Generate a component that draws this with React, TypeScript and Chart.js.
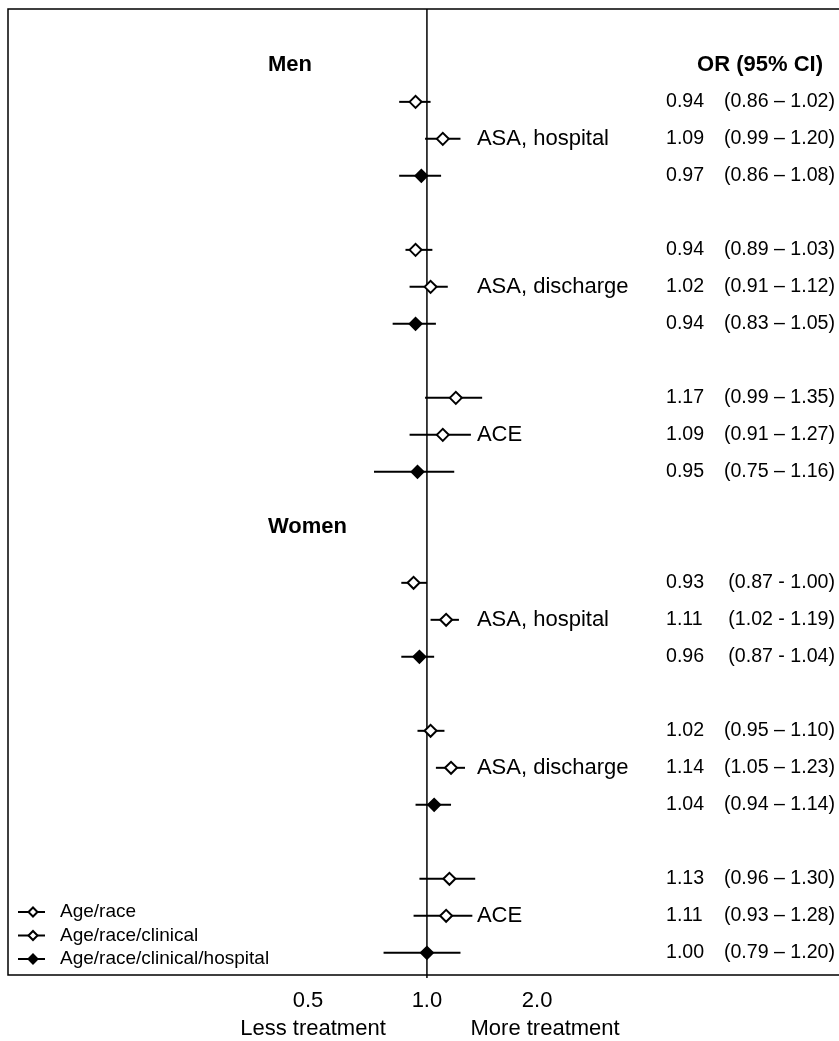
import { useEffect, useRef } from "react";
import { Chart, registerables } from "chart.js";

Chart.register(...registerables);

const FONT = '"Liberation Sans", Arial, Helvetica, sans-serif';

// ---- data ----
const GROUPS = ["Men", "Women"];
const OUTCOMES = ["ASA, hospital", "ASA, discharge", "ACE"];
const MODELS = ["Age/race", "Age/race/clinical", "Age/race/clinical/hospital"];
const COLUMN_TITLE = "OR (95% CI)";

// blocks: Men ASA hospital, Men ASA discharge, Men ACE, Women ASA hospital, Women ASA discharge, Women ACE
const AGE_RACE_OR = [0.94, 0.94, 1.17, 0.93, 1.02, 1.13];
const AGE_RACE_LO = [0.86, 0.89, 0.99, 0.87, 0.95, 0.96];
const AGE_RACE_HI = [1.02, 1.03, 1.35, 1.0, 1.1, 1.3];

const CLINICAL_OR = [1.09, 1.02, 1.09, 1.11, 1.14, 1.11];
const CLINICAL_LO = [0.99, 0.91, 0.91, 1.02, 1.05, 0.93];
const CLINICAL_HI = [1.2, 1.12, 1.27, 1.19, 1.23, 1.28];

const HOSPITAL_OR = [0.97, 0.94, 0.95, 0.96, 1.04, 1.0];
const HOSPITAL_LO = [0.86, 0.83, 0.75, 0.87, 0.94, 0.79];
const HOSPITAL_HI = [1.08, 1.05, 1.16, 1.04, 1.14, 1.2];

const CI_SEPARATOR = ["\u2013", "\u2013", "\u2013", "-", "\u2013", "\u2013"];

const TICK_LABELS = ["0.5", "1.0", "2.0"];
const TICK_AT = [0.524, 1.0, 1.82];
const DIRECTION_LABELS = ["Less treatment", "More treatment"];

const SERIES_OR = [AGE_RACE_OR, CLINICAL_OR, HOSPITAL_OR];
const SERIES_LO = [AGE_RACE_LO, CLINICAL_LO, HOSPITAL_LO];
const SERIES_HI = [AGE_RACE_HI, CLINICAL_HI, HOSPITAL_HI];
const SERIES_FILL = ["#ffffff", "#ffffff", "#000000"];

// ---- layout ----
const W = 839;
const H = 1041;
const X_MIN = 0.1026;
const X_MAX = 9.39;
const Y_MIN = -1.51;
const Y_MAX = 24.6;
const GROUP_OFFSET = 13;
const HEADER_SLOTS = [0, 12.5];

const slotOf = (block: number, model: number) =>
  Math.floor(block / 3) * GROUP_OFFSET + (block % 3) * 4 + model + 1;

function diamond(ctx: CanvasRenderingContext2D, x: number, y: number, r: number, fill: string) {
  ctx.beginPath();
  ctx.moveTo(x - r, y);
  ctx.lineTo(x, y - r);
  ctx.lineTo(x + r, y);
  ctx.lineTo(x, y + r);
  ctx.closePath();
  ctx.fillStyle = fill;
  ctx.fill();
  ctx.lineWidth = 2;
  ctx.strokeStyle = "#000";
  ctx.stroke();
}

const forestPlugin = {
  id: "forest",
  beforeDatasetsDraw(chart: any) {
    const { ctx, chartArea } = chart;
    const xs = chart.scales.x;
    const ys = chart.scales.y;
    ctx.save();
    ctx.strokeStyle = "#000";
    // frame (top, left, bottom)
    ctx.lineWidth = 1.5;
    ctx.beginPath();
    ctx.moveTo(chartArea.right, chartArea.top);
    ctx.lineTo(chartArea.left, chartArea.top);
    ctx.lineTo(chartArea.left, chartArea.bottom);
    ctx.lineTo(chartArea.right, chartArea.bottom);
    ctx.stroke();
    // reference line at OR = 1
    const rx = xs.getPixelForValue(1);
    ctx.lineWidth = 1.5;
    ctx.beginPath();
    ctx.moveTo(rx, chartArea.top);
    ctx.lineTo(rx, chartArea.bottom + 3);
    ctx.stroke();
    // confidence intervals
    ctx.lineWidth = 2;
    for (let m = 0; m < MODELS.length; m++) {
      for (let b = 0; b < SERIES_OR[m].length; b++) {
        const y = ys.getPixelForValue(slotOf(b, m));
        ctx.beginPath();
        ctx.moveTo(xs.getPixelForValue(SERIES_LO[m][b]), y);
        ctx.lineTo(xs.getPixelForValue(SERIES_HI[m][b]), y);
        ctx.stroke();
      }
    }
    ctx.restore();
  },
  afterDatasetsDraw(chart: any) {
    const { ctx, chartArea } = chart;
    const xs = chart.scales.x;
    const ys = chart.scales.y;
    const rx = xs.getPixelForValue(1);
    const right = chartArea.right;
    ctx.save();
    ctx.fillStyle = "#000";
    ctx.textBaseline = "middle";

    // group headers
    ctx.font = `bold 22px ${FONT}`;
    ctx.textAlign = "left";
    GROUPS.forEach((g, i) => {
      ctx.fillText(g, 268, ys.getPixelForValue(HEADER_SLOTS[i]));
    });
    ctx.textAlign = "right";
    ctx.fillText(COLUMN_TITLE, right - 16, ys.getPixelForValue(HEADER_SLOTS[0]));

    // outcome labels
    ctx.font = `22px ${FONT}`;
    ctx.textAlign = "left";
    for (let b = 0; b < SERIES_OR[0].length; b++) {
      ctx.fillText(OUTCOMES[b % 3], rx + 50, ys.getPixelForValue(slotOf(b, 1)));
    }

    // OR (95% CI) column
    ctx.font = `19.6px ${FONT}`;
    for (let m = 0; m < MODELS.length; m++) {
      for (let b = 0; b < SERIES_OR[m].length; b++) {
        const y = ys.getPixelForValue(slotOf(b, m));
        ctx.textAlign = "left";
        ctx.fillText(SERIES_OR[m][b].toFixed(2), right - 173, y);
        ctx.textAlign = "right";
        ctx.fillText(
          `(${SERIES_LO[m][b].toFixed(2)} ${CI_SEPARATOR[b]} ${SERIES_HI[m][b].toFixed(2)})`,
          right - 4,
          y
        );
      }
    }

    // direction labels under the axis
    ctx.font = `22px ${FONT}`;
    ctx.textAlign = "center";
    ctx.fillText(DIRECTION_LABELS[0], xs.getPixelForValue(TICK_AT[0]) + 5, chartArea.bottom + 54);
    ctx.fillText(DIRECTION_LABELS[1], xs.getPixelForValue(TICK_AT[2]) + 8, chartArea.bottom + 54);

    // legend
    ctx.font = `19px ${FONT}`;
    ctx.textAlign = "left";
    MODELS.forEach((name, i) => {
      const y = chartArea.bottom - 16 - (MODELS.length - 1 - i) * 23.5;
      const x0 = chartArea.left;
      ctx.strokeStyle = "#000";
      ctx.lineWidth = 2;
      ctx.beginPath();
      ctx.moveTo(x0 + 10, y);
      ctx.lineTo(x0 + 37, y);
      ctx.stroke();
      diamond(ctx, x0 + 25, y, 4.5, SERIES_FILL[i]);
      ctx.fillStyle = "#000";
      ctx.fillText(name, x0 + 52, y);
    });
    ctx.restore();
  },
};

export default function App() {
  const ref = useRef<HTMLCanvasElement | null>(null);

  useEffect(() => {
    if (!ref.current) return;
    const chart = new Chart(ref.current, {
      type: "scatter",
      data: {
        datasets: MODELS.map((name, m) => ({
          label: name,
          data: SERIES_OR[m].map((v, b) => ({ x: v, y: slotOf(b, m) })),
          pointStyle: "rectRot",
          pointRadius: 6,
          pointHoverRadius: 6,
          borderWidth: 2,
          backgroundColor: SERIES_FILL[m],
          borderColor: "#000000",
          showLine: false,
        })),
      },
      options: {
        responsive: false,
        animation: false,
        events: [],
        layout: { autoPadding: false, padding: { left: 8, top: 9, right: 0, bottom: 13.6 } },
        plugins: {
          legend: { display: false },
          tooltip: { enabled: false },
        },
        scales: {
          x: {
            type: "logarithmic",
            min: X_MIN,
            max: X_MAX,
            grid: { display: false, drawTicks: false, tickLength: 0 },
            border: { display: false },
            afterBuildTicks: (scale: any) => {
              scale.ticks = TICK_AT.map((v) => ({ value: v }));
            },
            afterFit: (scale: any) => {
              scale.paddingLeft = 0;
              scale.paddingRight = 0;
            },
            ticks: {
              autoSkip: false,
              maxRotation: 0,
              padding: 13,
              color: "#000",
              font: { family: FONT, size: 22 },
              callback: (_v: any, i: number) => TICK_LABELS[i],
            },
          },
          y: {
            type: "linear",
            min: Y_MIN,
            max: Y_MAX,
            reverse: true,
            display: false,
          },
        },
      },
      plugins: [forestPlugin],
    } as any);
    return () => chart.destroy();
  }, []);

  return (
    <div style={{ position: "fixed", left: 0, top: 0, width: W, height: H, background: "#fff" }}>
      <canvas ref={ref} width={W} height={H} style={{ display: "block" }} />
    </div>
  );
}
